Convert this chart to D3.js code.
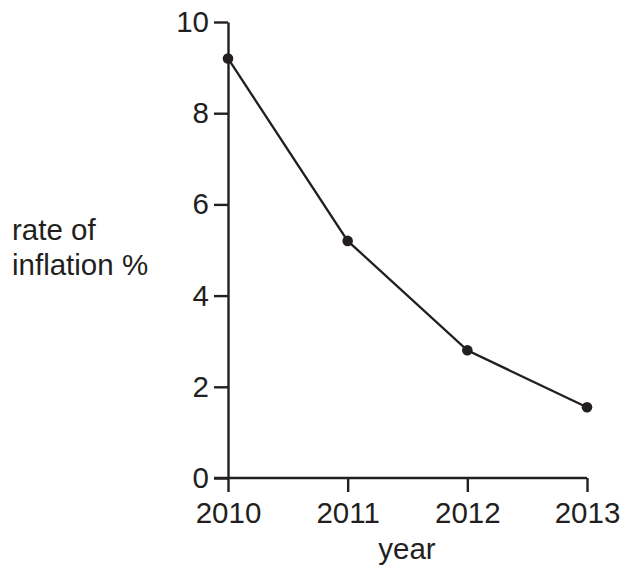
<!DOCTYPE html>
<html lang="en">
<head>
<meta charset="UTF-8">
<script src="https://d3js.org/d3.v7.min.js"></script>
<style>
  body { margin: 0; background: #fff; }
  #plot { position: absolute; width: 623px; height: 567px; }
</style>
</head>
<body>
<div id="plot"></div>
<script>
  // values
  var years = [2010, 2011, 2012, 2013];
  var inflation = [9.2, 5.2, 2.8, 1.55];
  var yTicks = [0, 2, 4, 6, 8, 10];
  var yLabel = ["rate of", "inflation %"];
  var xLabel = "year";

  function drawChart() {
    var width = 623, height = 567;
    var ink = "#231f20";
    var font = "'Liberation Sans', Arial, sans-serif";
    var fs = 29.5;

    var x = d3.scaleLinear().domain([2010, 2013]).range([228, 587]);
    var y = d3.scaleLinear().domain([0, 10]).range([478, 22]);

    var svg = d3.select("#plot").append("svg")
        .attr("width", width)
        .attr("height", height);

    // y axis
    var yAxis = svg.append("g")
        .attr("transform", "translate(" + x(2010) + ",0)")
        .call(d3.axisLeft(y).tickValues(yTicks).tickSize(14).tickPadding(5).tickSizeOuter(0));

    // x axis
    var xAxis = svg.append("g")
        .attr("transform", "translate(0," + y(0) + ")")
        .call(d3.axisBottom(x).tickValues(years).tickFormat(d3.format("d"))
          .tickSize(14).tickPadding(10).tickSizeOuter(0));

    [yAxis, xAxis].forEach(function(g) {
      g.select(".domain").attr("stroke", ink).attr("stroke-width", 2.4);
      g.selectAll(".tick line").attr("stroke", ink).attr("stroke-width", 2.4);
      g.selectAll(".tick text")
        .attr("fill", ink)
        .attr("font-family", font)
        .attr("font-size", fs);
    });
    // extend x axis domain to meet y axis tick row
    xAxis.select(".domain").attr("d", "M" + (x(2010) - 14) + ",0H" + x(2013));

    // line
    var pts = years.map(function(d, i) { return [d, inflation[i]]; });
    svg.append("path")
        .datum(pts)
        .attr("fill", "none")
        .attr("stroke", ink)
        .attr("stroke-width", 2.3)
        .attr("d", d3.line().x(function(d) { return x(d[0]); }).y(function(d) { return y(d[1]); }));

    svg.selectAll("circle.pt")
      .data(pts)
      .join("circle")
        .attr("class", "pt")
        .attr("cx", function(d) { return x(d[0]); })
        .attr("cy", function(d) { return y(d[1]); })
        .attr("r", 5.3)
        .attr("fill", ink);

    // axis titles
    svg.append("text")
        .attr("font-family", font)
        .attr("font-size", fs)
        .attr("fill", ink)
      .selectAll("tspan")
      .data(yLabel)
      .join("tspan")
        .attr("x", 12)
        .attr("y", function(d, i) { return 240 + i * 35; })
        .text(function(d) { return d; });

    svg.append("text")
        .attr("x", 407)
        .attr("y", 559)
        .attr("text-anchor", "middle")
        .attr("font-family", font)
        .attr("font-size", fs)
        .attr("fill", ink)
        .text(xLabel);
  }

  window.onload = drawChart;
</script>
</body>
</html>
